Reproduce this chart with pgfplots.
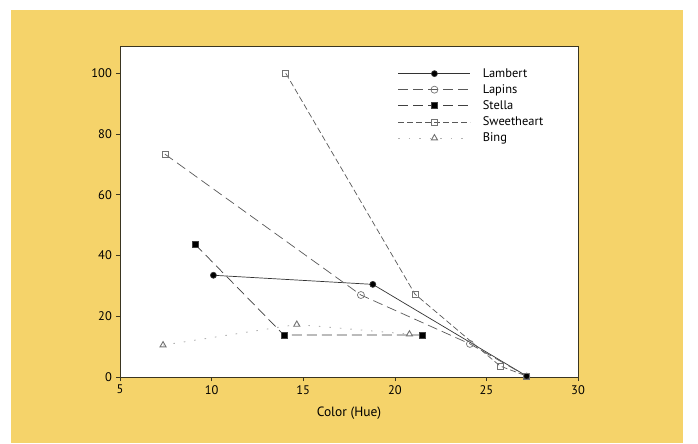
\documentclass[border=0pt]{standalone}
\usepackage{pgfplots}
\pgfplotsset{compat=1.18}
\usepackage{fontspec}
\setmainfont{PT Sans}
\definecolor{bgyellow}{HTML}{F5D36A}
\definecolor{axiscol}{HTML}{3A3520}

\begin{document}
\fontsize{12}{14}\selectfont
\begin{tikzpicture}
% page and yellow panel
\fill[white] (-120bp,-67bp) rectangle (578bp,377bp);
\fill[bgyellow] (-109bp,-66bp) rectangle (563bp,367bp);

\begin{axis}[
    scale only axis,
    width=458bp, height=331bp,
    xmin=5, xmax=30, ymin=0, ymax=109,
    xtick={5,10,...,30}, ytick={0,20,...,100},
    xtick pos=left, ytick pos=left,
    tick align=outside,
    major tick length=4bp,
    axis line style={axiscol, line width=0.6pt},
    tick style={axiscol, line width=0.6pt},
    axis background/.style={fill=white},
    /pgf/number format/assume math mode=true,
    tick label style={font=\fontsize{12.5}{14}\selectfont},
    xlabel={Color (Hue)},
    xlabel style={font=\fontsize{13.5}{15}\selectfont, yshift=-5bp},
    legend style={at={(0.6,0.945)}, anchor=north west, draw=none, fill=none,
        font=\fontsize{12.5}{14}\selectfont, row sep=1.5bp,
        cells={anchor=west},
        /tikz/every odd column/.append style={column sep=10bp}},
    legend image code/.code={
        \draw[mark repeat=2, mark phase=2, #1]
            plot coordinates {(0bp,0bp) (36bp,0bp) (72bp,0bp)};
    },
]

\addplot[black!80, line width=0.7pt, mark=*, mark size=3bp,
    mark options={solid, fill=black}]
coordinates {(10.1,33.5) (18.8,30.5) (27.2,0.3)};
\addlegendentry{Lambert}

% Lapins: the first point carries a square in the source
\addlegendimage{black!65, line width=0.7pt, dash pattern=on 10bp off 5bp,
    mark=o, mark size=3.5bp, mark options={solid, fill=white, black!55}}
\addlegendentry{Lapins}
\addplot[forget plot, black!65, line width=0.7pt, dash pattern=on 10bp off 5bp,
    mark=o, mark size=3.5bp, mark indices={2,3},
    mark options={solid, fill=white, black!55}]
coordinates {(7.45,73.4) (18.15,27) (24.1,10.9) (27.2,0.3)};
\addplot[forget plot, only marks, mark=square, mark size=3bp,
    mark options={black!55, line width=0.7pt}]
coordinates {(7.45,73.4)};

\addplot[black!75, line width=0.7pt, dash pattern=on 10bp off 5bp,
    mark=square*, mark size=3bp, mark options={solid, fill=black}]
coordinates {(9.1,43.7) (13.95,13.8) (21.5,13.8)};
\addlegendentry{Stella}

\addplot[black!65, line width=0.7pt, dash pattern=on 6bp off 3bp,
    mark=square, mark size=3bp, mark options={solid, black!55}]
coordinates {(14.05,100) (21.1,27.3) (25.75,3.6) (27.2,0.3)};
\addlegendentry{Sweetheart}

\addplot[black!30, line width=0.9pt, dash pattern=on 1.5bp off 9bp,
    mark=triangle, mark size=3.5bp, mark options={solid, black!55}]
coordinates {(7.35,10.5) (14.65,17.3) (20.8,14.1)};
\addlegendentry{Bing}

\end{axis}
\end{tikzpicture}
\end{document}
